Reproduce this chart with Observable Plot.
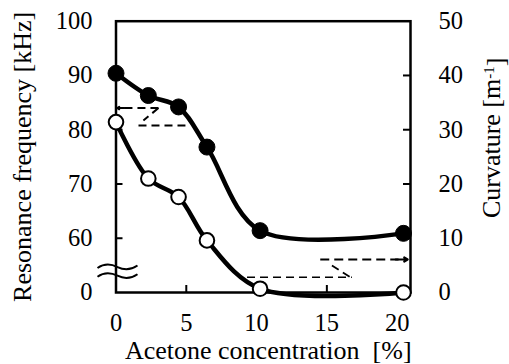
<!DOCTYPE html>
<html><head><meta charset="utf-8">
<script src="https://cdn.jsdelivr.net/npm/d3@7"></script>
<script src="https://cdn.jsdelivr.net/npm/@observablehq/plot@0.6"></script>
<style>
html,body{margin:0;padding:0;background:#fff;}
svg text{white-space:pre;font-family:"Liberation Serif","Times New Roman",serif !important;}
</style></head><body><div id="chart"></div>
<script>
// ---- data ----
const acetone   = [0, 2.3, 4.45, 6.47, 10.25, 20.45];      // %
const frequency = [90.4, 86.3, 84.2, 76.8, 61.4, 60.9];    // kHz (left axis)
const curvature = [31.4, 21.0, 17.6, 9.6, 0.7, 0.0];       // m^-1 (right axis)
const xTicks = [0, 5, 10, 15, 20];
const freqTickLabels = [0, 60, 70, 80, 90, 100];           // left axis (broken between 0 and 60)
const curvTicks = [0, 10, 20, 30, 40, 50];                 // right axis

// left axis is broken: 0 sits at the bottom, 60..100 share the curvature scale
const freqPos = f => f - 50;
const freqTickPos = freqTickLabels.map(v => v === 0 ? 0 : freqPos(v));

const rows = acetone.map((x, i) => ({x, f: freqPos(frequency[i]), c: curvature[i]}));

// dashed "refer to axis" guides (data coordinates)
const guideLeft = {top: 34, topFrom: 3.02, diag: [[3.02, 34], [1.95, 31.7]], bottom: 30.8, bottomFrom: 1.6, bottomTo: 4.94};
const guideRight = {top: 6.08, topFrom: 14.53, diag: [[15.36, 4.98], [16.66, 2.82]], bottom: 2.82, bottomFrom: 9.32, bottomTo: 16.78};

const W = 509, H = 364, mL = 115.5, mR = 99, mT = 20.7, mB = 72;
const xMax = 20.95, yMax = 50;
const pxX = (W - mL - mR) / xMax, pxY = (H - mT - mB) / yMax;
const tick = 7;
const font = "Liberation Serif";
const T = {fontSize: 24.5, fontFamily: font, fill: "#000", lineAnchor: "middle"};
const TT = {fontSize: 26, fontFamily: font, fill: "#000", textAnchor: "middle", lineAnchor: "middle"};

const plot = Plot.plot({
  width: W, height: H,
  marginLeft: mL, marginRight: mR, marginTop: mT, marginBottom: mB,
  x: {domain: [0, xMax], axis: null},
  y: {domain: [0, yMax], axis: null},
  style: {fontFamily: font, background: "#fff", color: "#000", overflow: "visible"},
  marks: [
    // frame and ticks
    Plot.frame({stroke: "#000", strokeWidth: 2.5}),
    Plot.ruleY(freqTickPos.slice(1, -1), {x1: 0, x2: tick / pxX, stroke: "#000", strokeWidth: 2}),
    Plot.ruleY(curvTicks.slice(1, -1), {x1: xMax - tick / pxX, x2: xMax, stroke: "#000", strokeWidth: 2}),
    Plot.ruleX(xTicks.slice(1, -1), {y1: 0, y2: tick / pxY, stroke: "#000", strokeWidth: 2}),
    // tick labels
    Plot.text(freqTickPos, {x: 0, y: d => d, text: (d, i) => String(freqTickLabels[i]), dx: -23.5, textAnchor: "end", ...T}),
    Plot.text(curvTicks, {x: xMax, y: d => d, text: d => String(d), dx: 28, textAnchor: "start", ...T}),
    Plot.text(xTicks, {x: d => d, y: 0, text: d => String(d), dy: 31, textAnchor: "middle", ...T}),
    // axis titles
    Plot.text(["Resonance frequency [kHz]"], {frameAnchor: "left", text: d => d, rotate: -90, dx: -93.5, ...TT}),
    Plot.text(["Curvature [m-1]"], {frameAnchor: "right", text: d => d, rotate: -90, dx: 81, dy: -19, ...TT}),
    Plot.text(["Acetone concentration\u00a0 [%]"], {frameAnchor: "bottom", text: d => d, dx: 5, dy: 58, ...TT}),
    // dashed guides (left: frequency axis)
    Plot.link([guideLeft], {x1: d => d.topFrom, x2: 0.5, y1: d => d.top, y2: d => d.top, stroke: "#000", strokeWidth: 2, strokeDasharray: "8 5"}),
    Plot.arrow([guideLeft], {x1: 0.6, x2: 0.08, y1: d => d.top, y2: d => d.top, stroke: "#000", strokeWidth: 2, headLength: 9, headAngle: 62}),
    Plot.link([guideLeft], {x1: d => d.diag[0][0], y1: d => d.diag[0][1], x2: d => d.diag[1][0], y2: d => d.diag[1][1], stroke: "#000", strokeWidth: 2, strokeDasharray: "8 5"}),
    Plot.link([guideLeft], {x1: d => d.bottomFrom, x2: d => d.bottomTo, y1: d => d.bottom, y2: d => d.bottom, stroke: "#000", strokeWidth: 2, strokeDasharray: "8 5"}),
    // dashed guides (right: curvature axis)
    Plot.link([guideRight], {x1: d => d.topFrom, x2: 20.1, y1: d => d.top, y2: d => d.top, stroke: "#000", strokeWidth: 2.2, strokeDasharray: "9 5"}),
    Plot.arrow([guideRight], {x1: 19.9, x2: 20.75, y1: d => d.top, y2: d => d.top, stroke: "#000", strokeWidth: 2.2, headLength: 11, headAngle: 60}),
    Plot.link([guideRight], {x1: d => d.diag[0][0], y1: d => d.diag[0][1], x2: d => d.diag[1][0], y2: d => d.diag[1][1], stroke: "#000", strokeWidth: 1.8, strokeDasharray: "8 5"}),
    Plot.link([guideRight], {x1: d => d.bottomFrom, x2: d => d.bottomTo, y1: d => d.bottom, y2: d => d.bottom, stroke: "#000", strokeWidth: 1.6, strokeDasharray: "8 5"}),
    // series
    Plot.line(rows, {x: "x", y: "f", curve: "catmull-rom", stroke: "#000", strokeWidth: 4.5}),
    Plot.line(rows, {x: "x", y: "c", curve: "catmull-rom", stroke: "#000", strokeWidth: 4.5}),
    Plot.dot(rows, {x: "x", y: "f", r: 8, fill: "#000", stroke: "#000", strokeWidth: 1}),
    Plot.dot(rows, {x: "x", y: "c", r: 7.3, fill: "#fff", stroke: "#000", strokeWidth: 2})
  ]
});

// superscript in the right-axis title
d3.select(plot).selectAll("text").each(function() {
  if (this.textContent === "Curvature [m-1]") {
    const t = d3.select(this);
    t.text("Curvature [m");
    t.append("tspan").attr("dy", "-0.4em").attr("font-size", "15px").text("-1");
    t.append("tspan").attr("dy", "0.4em").text("]");
  }
});

// axis-break marks on the left axis
const sx = plot.scale("x"), sy = plot.scale("y");
const ax = sx.apply(0);
const breakLevels = [4.6, 3.0]; // data positions of the two break squiggles
const g = d3.select(plot).append("g").attr("fill", "none").attr("stroke", "#000").attr("stroke-width", 2);
for (const v of breakLevels) {
  const by = sy.apply(v);
  g.append("path").attr("d",
    `M${ax - 18},${by + 1} C${ax - 11},${by - 4} ${ax - 4},${by - 3} ${ax + 2},${by} S${ax + 14},${by + 4} ${ax + 22},${by - 1.5}`);
}

document.getElementById("chart").append(plot);
</script>
</body></html>
